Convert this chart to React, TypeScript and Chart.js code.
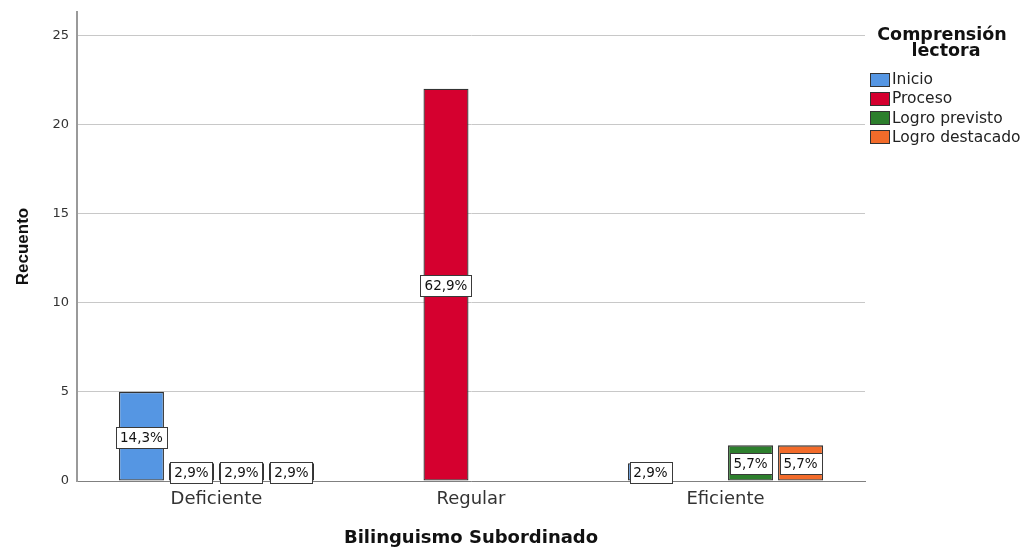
import React, { useEffect, useRef } from "react";
import { Chart, registerables } from "chart.js";

Chart.register(...registerables);

// ---- data ----
const categories = ["Deficiente", "Regular", "Eficiente"];
const seriesNames = ["Inicio", "Proceso", "Logro previsto", "Logro destacado"];
const inicio = [5, 0, 1];
const proceso = [1, 22, 0];
const logroPrevisto = [1, 0, 2];
const logroDestacado = [1, 0, 2];
const seriesValues = [inicio, proceso, logroPrevisto, logroDestacado];
const seriesColors = ["#5596E3", "#D5002F", "#2D7F2D", "#F26B2A"];
const yTickValues = [0, 5, 10, 15, 20, 25];
const legendTitle = ["Comprensión", "lectora"];
const xTitle = "Bilinguismo Subordinado";
const yTitle = "Recuento";

const total = seriesValues.reduce((s, arr) => s + arr.reduce((a, b) => a + b, 0), 0);
const pct = (v: number) => ((v / total) * 100).toFixed(1).replace(".", ",") + "%";

const FONT = '"DejaVu Sans", "Liberation Sans", sans-serif';

const labelPlugin = {
  id: "pctLabels",
  afterDatasetsDraw(chart: any) {
    const ctx = chart.ctx as CanvasRenderingContext2D;
    ctx.save();
    ctx.font = `13.5px ${FONT}`;
    ctx.textAlign = "center";
    ctx.textBaseline = "middle";
    chart.data.datasets.forEach((_ds: any, di: number) => {
      const meta = chart.getDatasetMeta(di);
      meta.data.forEach((el: any, i: number) => {
        const v = seriesValues[di][i];
        if (!v) return;
        const text = pct(v);
        const w = Math.round(ctx.measureText(text).width + 8);
        const h = 21;
        const cx = el.x;
        const cy = (el.y + el.base) / 2 + 1;
        const x0 = Math.round(cx - w / 2) + 0.5;
        const y0 = Math.round(cy - h / 2) + 0.5;
        ctx.fillStyle = "#ffffff";
        ctx.fillRect(x0, y0, w, h);
        ctx.strokeStyle = "#3a3a3a";
        ctx.lineWidth = 1;
        ctx.strokeRect(x0, y0, w, h);
        ctx.fillStyle = "#111";
        ctx.fillText(text, cx, cy + 1);
      });
    });
    ctx.restore();
  },
};

const legendPlugin = {
  id: "customLegend",
  afterDraw(chart: any) {
    const ctx = chart.ctx as CanvasRenderingContext2D;
    ctx.save();
    ctx.fillStyle = "#111";
    ctx.font = `bold 17.5px ${FONT}`;
    ctx.textAlign = "center";
    ctx.textBaseline = "alphabetic";
    ctx.fillText(legendTitle[0], 942, 39.5);
    ctx.fillText(legendTitle[1], 946, 55.5);
    ctx.font = `15.5px ${FONT}`;
    ctx.textAlign = "left";
    ctx.textBaseline = "middle";
    seriesNames.forEach((name, i) => {
      const cy = 79 + i * 19.3;
      ctx.fillStyle = seriesColors[i];
      ctx.fillRect(870.5, Math.round(cy - 6.5) + 0.5, 19, 13);
      ctx.strokeStyle = "#333";
      ctx.lineWidth = 1;
      ctx.strokeRect(870.5, Math.round(cy - 6.5) + 0.5, 19, 13);
      ctx.fillStyle = "#222";
      ctx.fillText(name, 892, cy + 1);
    });
    ctx.restore();
  },
};

export default function App() {
  const ref = useRef<HTMLCanvasElement | null>(null);
  useEffect(() => {
    if (!ref.current) return;
    const chart = new Chart(ref.current, {
      type: "bar",
      data: {
        datasets: seriesNames.map((name, di) => ({
          label: name,
          data: seriesValues[di].map((v, i) => ({ x: i, y: v === 0 ? null : v })),
          backgroundColor: seriesColors[di],
          borderColor: "#333333",
          borderWidth: 1.3,
          borderSkipped: false,
          categoryPercentage: 0.786,
          barPercentage: 0.9,
        })),
      },
      options: {
        responsive: false,
        maintainAspectRatio: false,
        animation: false,
        layout: { padding: { top: 12, right: 159, left: 0, bottom: 0 } },
        plugins: { legend: { display: false }, tooltip: { enabled: false } },
        scales: {
          x: {
            type: "linear",
            offset: false,
            min: -0.548,
            max: 2.548,
            afterFit: (s: any) => {
              s.height = 66;
              s.paddingLeft = 0;
              s.paddingRight = 0;
            },
            grid: { display: false, drawTicks: false },
            border: { display: true, color: "#808080", width: 1 },
            ticks: {
              stepSize: 1,
              includeBounds: false,
              autoSkip: false,
              maxRotation: 0,
              padding: 8,
              color: "#333",
              font: { family: FONT, size: 18 },
              callback: (v: any) => (categories[v] !== undefined ? categories[v] : ""),
            },
            title: {
              display: true,
              text: xTitle,
              color: "#111",
              font: { family: FONT, size: 18, weight: "bold", lineHeight: 1 },
              padding: { top: 0, bottom: 0 },
            },
          },
          y: {
            min: 0,
            max: 26.3,
            afterFit: (s: any) => {
              s.width = 77;
              s.paddingTop = 0;
              s.paddingBottom = 0;
            },
            grid: { color: "#c8c8c8", lineWidth: 1, drawTicks: false },
            border: { display: true, color: "#9a9a9a", width: 2 },
            afterBuildTicks: (s: any) => {
              s.ticks = yTickValues.map((v) => ({ value: v }));
            },
            ticks: {
              stepSize: 5,
              includeBounds: false,
              padding: 8,
              color: "#333",
              font: { family: FONT, size: 13 },
            },
            title: {
              display: true,
              text: yTitle,
              color: "#111",
              font: { family: '"Liberation Sans", Arial, sans-serif', size: 17, weight: "bold", lineHeight: 1.2 },
              padding: { top: 13, bottom: 0 },
            },
          },
        },
      },
      plugins: [labelPlugin, legendPlugin],
    } as any);
    return () => chart.destroy();
  }, []);
  return (
    <div style={{ position: "fixed", left: 0, top: 0, width: 1024, height: 547, background: "#fff" }}>
      <canvas ref={ref} width={1024} height={547} style={{ display: "block" }} />
    </div>
  );
}
